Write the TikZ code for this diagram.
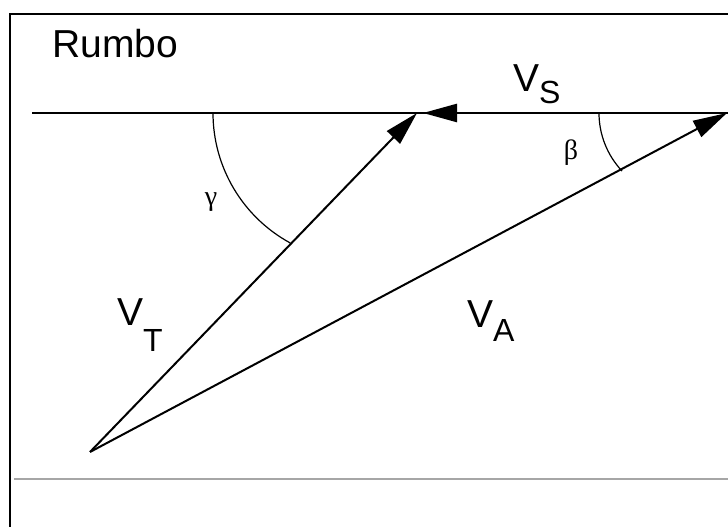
\documentclass[tikz,border=0pt]{standalone}
\usepackage{fontspec}
\setmainfont{Liberation Sans}
\newfontfamily\greekfont{Liberation Serif}
\usetikzlibrary{arrows.meta}
\newcommand\vsub[2]{V\raisebox{-#1}{\fontsize{32}{36}\selectfont #2}}

\begin{document}
\begin{tikzpicture}[x=1pt,y=1pt,>={Triangle[length=34pt,width=18pt]},
  vec/.style={line width=2pt},
  lbl/.style={inner sep=0pt,anchor=base west,font=\fontsize{39}{44}\selectfont},
  ang/.style={inner sep=0pt,font=\greekfont\fontsize{28}{32}\selectfont}]
  \useasboundingbox (0,0) rectangle (728,527);
  % frame
  \draw[line width=2pt] (10,0) -- (10,513) -- (728,513);
  \draw[gray!70,line width=2pt] (14,48) -- (728,48);
  % points
  \coordinate (O) at (90,75);
  \coordinate (T) at (417,414);
  \coordinate (A) at (727,414);
  \coordinate (west) at (32,414);
  \coordinate (east) at (728,414);
  \draw[line width=1.5pt] (west) -- (east);
  \draw[vec,->] (O) -- (T);
  \draw[vec,->] (O) -- (A);
  \draw[line width=2.5pt,->,shorten >=6pt] (A) -- (T);
  % angles
  \draw[line width=1.2pt] (213,414) arc[start angle=180,end angle=241.4,radius=148];
  \draw[line width=1.2pt] (599,414) arc[start angle=180,end angle=223.3,radius=84.6];
  \node[ang] (gamma) at (211,325) {γ};
  \node[ang] (beta) at (571,374) {β};
  % labels
  \node[lbl] (rumbo) at (52,469) {Rumbo};
  \node[lbl] (vs) at (513,435) {\vsub{12pt}{S}};
  \node[lbl] (vt) at (117,201) {\vsub{26pt}{T}};
  \node[lbl] (va) at (467,199) {\vsub{14pt}{A}};
\end{tikzpicture}
\end{document}
